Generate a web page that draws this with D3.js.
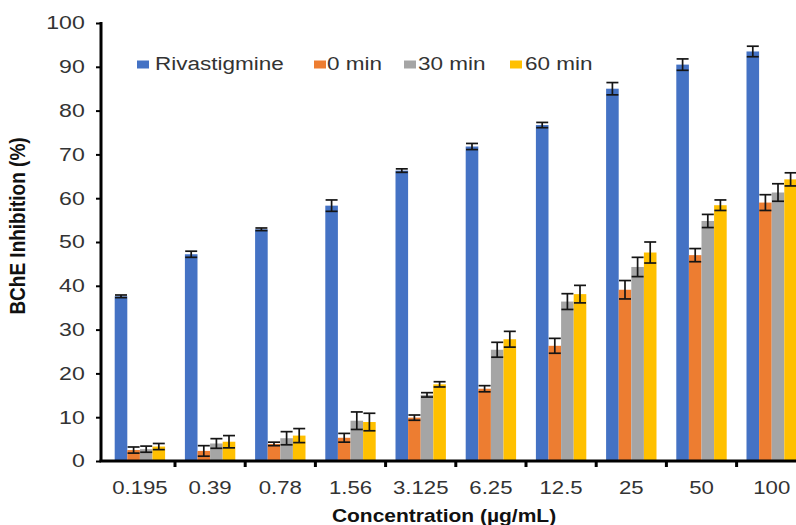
<!DOCTYPE html>
<html>
<head>
<meta charset="utf-8">
<script src="https://cdn.jsdelivr.net/npm/d3@7"></script>
<style>
  body { margin: 0; background: #fff; }
  svg { display: block; font-family: "Liberation Sans", Arial, sans-serif; }
</style>
</head>
<body>
<div id="chart"></div>
<script>
const concentrations = ['0.195', '0.39', '0.78', '1.56', '3.125', '6.25', '12.5', '25', '50', '100'];
const seriesNames = ['Rivastigmine', '0 min', '30 min', '60 min'];
const seriesColors = ['#4472C4', '#ED7D31', '#A5A5A5', '#FFC000'];

const rivastigmine = [37.6, 47.2, 52.9, 58.3, 66.3, 71.8, 76.7, 85.0, 90.5, 93.5];
const rivastigmineErr = [0.3, 0.7, 0.3, 1.3, 0.4, 0.7, 0.6, 1.4, 1.3, 1.2];
const min0 = [2.5, 2.3, 3.9, 5.3, 9.9, 16.5, 26.3, 39.1, 47.0, 59.0];
const min0Err = [0.7, 1.2, 0.4, 1.0, 0.6, 0.7, 1.7, 2.1, 1.5, 1.8];
const min30 = [2.7, 4.0, 5.2, 9.2, 15.1, 25.4, 36.4, 44.3, 54.8, 61.3];
const min30Err = [0.7, 1.1, 1.5, 2.0, 0.5, 1.7, 1.8, 2.2, 1.5, 2.0];
const min60 = [3.3, 4.4, 5.8, 8.9, 17.5, 27.8, 38.1, 47.6, 58.4, 64.3];
const min60Err = [0.7, 1.4, 1.6, 2.0, 0.6, 1.8, 2.0, 2.4, 1.2, 1.5];
const yTicks = [0, 10, 20, 30, 40, 50, 60, 70, 80, 90, 100];

const values = [rivastigmine, min0, min30, min60];
const errors = [rivastigmineErr, min0Err, min30Err, min60Err];

const width = 796, height = 525;
const stretch = 1.25; // the source image is squeezed wider than tall
const svg = d3.select('#chart').append('svg').attr('width', width).attr('height', height);

// plot runs past the right edge like the original crop
const x = d3.scaleBand().domain(concentrations).range([104.8, 806.8]).paddingInner(0.282).paddingOuter(0.141);
const x1 = d3.scaleBand().domain(seriesNames).range([0, x.bandwidth()]);
const y = d3.scaleLinear().domain([0, 100]).range([461, 23]);

const rows = [];
concentrations.forEach((c, i) => {
  seriesNames.forEach((s, j) => {
    rows.push({ c, s, j, v: values[j][i], e: errors[j][i] });
  });
});

svg.append('g').selectAll('rect').data(rows).join('rect')
  .attr('x', d => x(d.c) + x1(d.s))
  .attr('y', d => y(d.v))
  .attr('width', x1.bandwidth())
  .attr('height', d => y(0) - y(d.v))
  .attr('fill', d => seriesColors[d.j]);

// error bars
const eb = svg.append('g').attr('stroke', '#151515').attr('stroke-width', 1.7);
rows.forEach(d => {
  const cx = x(d.c) + x1(d.s) + x1.bandwidth() / 2;
  const top = y(d.v + d.e), bot = y(d.v - d.e);
  eb.append('line').attr('x1', cx).attr('x2', cx).attr('y1', top).attr('y2', bot);
  eb.append('line').attr('x1', cx - 6).attr('x2', cx + 6).attr('y1', top).attr('y2', top);
  eb.append('line').attr('x1', cx - 6).attr('x2', cx + 6).attr('y1', bot).attr('y2', bot);
});

// y axis
const yAxis = svg.append('g').attr('transform', 'translate(101,0)')
  .call(d3.axisLeft(y).tickValues(yTicks).tickSize(5).tickPadding(8));
yAxis.select('.domain').attr('stroke', '#000').attr('stroke-width', 3).attr('d', `M0,${y(100) - 1}V${y(0) + 1}`);
yAxis.selectAll('.tick line').attr('stroke', '#000').attr('stroke-width', 2);
yAxis.selectAll('.tick text').attr('font-size', 18.5).attr('fill', '#333')
  .attr('transform', `scale(${stretch},1)`);

// x axis
const xTicks = concentrations.map(c => x(c) - x.step() * x.paddingInner() / 2);
const xAxis = svg.append('g');
xAxis.append('line').attr('x1', 99.5).attr('x2', width).attr('y1', y(0)).attr('y2', y(0))
  .attr('stroke', '#000').attr('stroke-width', 3);
xAxis.selectAll('line.tk').data(xTicks.slice(1)).join('line').attr('class', 'tk')
  .attr('x1', d => d).attr('x2', d => d).attr('y1', y(0)).attr('y2', y(0) + 6)
  .attr('stroke', '#000').attr('stroke-width', 3);
xAxis.selectAll('text').data(concentrations).join('text')
  .attr('transform', d => `translate(${x(d) + x.bandwidth() / 2},493.5) scale(${stretch * 0.96},1)`)
  .attr('text-anchor', 'middle')
  .attr('font-size', 18.5)
  .attr('fill', '#333')
  .text(d => d);

// axis titles
svg.append('text').attr('transform', `translate(444,522) scale(1.2,1)`).attr('text-anchor', 'middle')
  .attr('font-size', 17.5).attr('font-weight', 'bold').attr('fill', '#111')
  .text('Concentration (µg/mL)');
svg.append('text').attr('transform', 'translate(25,226) rotate(-90) scale(1,1.15)').attr('text-anchor', 'middle')
  .attr('font-size', 19).attr('font-weight', 'bold').attr('fill', '#111')
  .text('BChE Inhibition (%)');

// legend
const legendMarkX = [137, 314, 404, 510];
const legendTextX = [155, 327, 418, 525];
const legend = svg.append('g');
seriesNames.forEach((s, j) => {
  legend.append('rect').attr('x', legendMarkX[j]).attr('y', 60.5).attr('width', 12).attr('height', 8).attr('fill', seriesColors[j]);
  legend.append('text').attr('transform', `translate(${legendTextX[j]},69.5) scale(${stretch},1)`)
    .attr('font-size', 18).attr('fill', '#333').text(s);
});
</script>
</body>
</html>
